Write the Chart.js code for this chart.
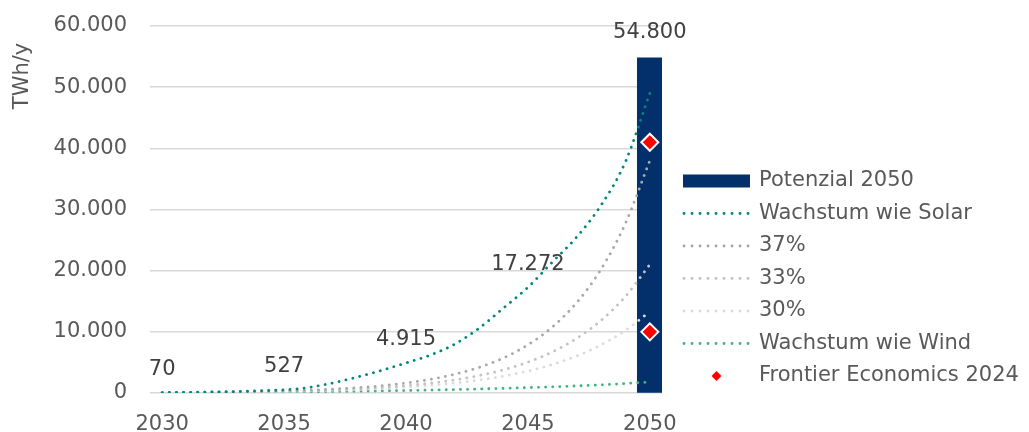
<!DOCTYPE html>
<html>
<head>
<meta charset="utf-8">
<script src="https://cdn.jsdelivr.net/npm/chart.js@4.4.1/dist/chart.umd.min.js"></script>
<style>
  html, body { margin: 0; padding: 0; background: #fff; }
</style>
</head>
<body>
<canvas id="myChart" width="1029" height="432"></canvas>
<script>
// Jahre auf der x-Achse
const years = [2030, 2031, 2032, 2033, 2034, 2035, 2036, 2037, 2038, 2039, 2040,
               2041, 2042, 2043, 2044, 2045, 2046, 2047, 2048, 2049, 2050];

// Szenarien (TWh/y)
const solar    = [70, 105, 158, 236, 354, 527, 900, 1650, 2600, 3700, 4915,
                  6200, 8000, 10600, 13900, 17272, 21400, 25500, 30700, 37800, 49000];
const growth37 = [70, 96, 131, 180, 247, 338, 463, 634, 869, 1190, 1631,
                  2234, 3061, 4193, 5744, 7870, 10782, 14771, 20236, 27724, 37982];
const growth33 = [70, 93, 124, 165, 219, 291, 387, 515, 685, 912, 1212,
                  1612, 2144, 2852, 3793, 5045, 6710, 8924, 11869, 15786, 21000];
const growth30 = [70, 91, 118, 154, 200, 260, 338, 439, 571, 742, 965,
                  1255, 1631, 2120, 2756, 3583, 4658, 6055, 7872, 10234, 13304];
const wind     = [70, 85, 102, 122, 145, 172, 205, 243, 290, 345, 410,
                  480, 560, 650, 760, 880, 1010, 1160, 1330, 1550, 1800];

const potenzial2050 = 54800;
const frontier2024 = [41000, 10000];

// Jahre, deren Solarwert beschriftet wird
const labelledYears = [2030, 2035, 2040, 2045];

const FONT = "'DejaVu Sans'";
const textGrey = '#595959';

function fmt(v) {
  return String(Math.round(v)).replace(/\B(?=(\d{3})+(?!\d))/g, '.');
}

function dotted(label, data, color, order) {
  return {
    type: 'line',
    label: label,
    data: data,
    borderColor: color,
    backgroundColor: color,
    borderWidth: 2.8,
    borderDash: [0.1, 7],
    borderCapStyle: 'round',
    pointRadius: 0,
    cubicInterpolationMode: 'monotone',
    fill: false,
    order: order
  };
}

const datasets = [
  {
    type: 'bar',
    label: 'Potenzial 2050',
    data: years.map(y => (y === 2050 ? potenzial2050 : null)),
    backgroundColor: '#03306b',
    barThickness: 25,
    order: 10
  },
  dotted('Wachstum wie Solar', solar, '#00897a', 1),
  dotted('37%', growth37, '#a9a9a9', 2),
  dotted('33%', growth33, '#c3c3c3', 3),
  dotted('30%', growth30, '#dcdcdc', 4),
  dotted('Wachstum wie Wind', wind, '#3db57f', 5),
  {
    type: 'line',
    label: 'Frontier Economics 2024',
    data: frontier2024.map(v => ({ x: '2050', y: v })),
    showLine: false,
    pointStyle: 'rectRot',
    pointRadius: 8.5,
    pointBorderWidth: 2,
    pointBorderColor: '#ffffff',
    backgroundColor: '#ff0000',
    order: 0
  }
];

// Werte, Achsentitel und Legende selbst zeichnen
const extras = {
  id: 'extras',
  afterDatasetsDraw(chart) {
    const ctx = chart.ctx;
    ctx.save();
    ctx.font = '21px ' + FONT;
    ctx.fillStyle = '#404040';
    ctx.textAlign = 'center';
    ctx.textBaseline = 'middle';
    const solarMeta = chart.getDatasetMeta(1);
    labelledYears.forEach(yr => {
      const i = years.indexOf(yr);
      const pt = solarMeta.data[i];
      ctx.fillText(fmt(solar[i]), pt.x, pt.y - 23);
    });
    const bar = chart.getDatasetMeta(0).data[years.indexOf(2050)];
    ctx.fillText(fmt(potenzial2050), bar.x, bar.y - 25);
    ctx.restore();
  },
  afterDraw(chart) {
    const ctx = chart.ctx;
    ctx.save();
    ctx.font = '21px ' + FONT;
    ctx.fillStyle = textGrey;
    ctx.textBaseline = 'middle';

    // y-Achsentitel
    ctx.save();
    ctx.translate(23, 76);
    ctx.rotate(-Math.PI / 2);
    ctx.textAlign = 'center';
    ctx.fillText('TWh/y', 0, 0);
    ctx.restore();

    // Legende
    const lx = 683, lw = 67, tx = 759, top = 181, step = 32.5;
    chart.data.datasets.forEach((ds, k) => {
      const cy = top + k * step;
      ctx.save();
      if (ds.type === 'bar') {
        ctx.fillStyle = ds.backgroundColor;
        ctx.fillRect(lx, cy - 6.5, lw, 13);
      } else if (ds.showLine === false) {
        const cx = lx + lw / 2, r = 5;
        ctx.fillStyle = ds.backgroundColor;
        ctx.beginPath();
        ctx.moveTo(cx, cy - r);
        ctx.lineTo(cx + r, cy);
        ctx.lineTo(cx, cy + r);
        ctx.lineTo(cx - r, cy);
        ctx.closePath();
        ctx.fill();
      } else {
        ctx.strokeStyle = ds.borderColor;
        ctx.lineWidth = ds.borderWidth;
        ctx.lineCap = 'round';
        ctx.setLineDash([0.1, 7.9]);
        ctx.beginPath();
        ctx.moveTo(lx + 1, cy);
        ctx.lineTo(lx + 66, cy);
        ctx.stroke();
      }
      ctx.restore();
      ctx.textAlign = 'left';
      ctx.fillText(ds.label, tx, cy);
    });
    ctx.restore();
  }
};

const myChart = new Chart(document.getElementById('myChart'), {
  data: {
    labels: years.map(String),
    datasets: datasets
  },
  options: {
    responsive: false,
    devicePixelRatio: 1,
    animation: false,
    events: [],
    layout: { padding: { top: 26, right: 367, left: 0, bottom: 0 } },
    plugins: {
      legend: { display: false },
      tooltip: { enabled: false }
    },
    scales: {
      x: {
        grid: { display: false },
        border: { display: false },
        ticks: {
          autoSkip: false,
          maxRotation: 0,
          padding: 11,
          color: textGrey,
          font: { family: FONT, size: 21 },
          callback: function (value, index) {
            const y = years[index];
            return y % 5 === 0 ? String(y) : '';
          }
        },
        afterFit: function (scale) { scale.height = 39; }
      },
      y: {
        min: 0,
        max: 60000,
        grid: { color: '#d9d9d9', lineWidth: 1.4, drawTicks: false },
        border: { display: false },
        ticks: {
          stepSize: 10000,
          padding: 23,
          color: textGrey,
          font: { family: FONT, size: 21 },
          callback: v => fmt(v)
        },
        afterFit: function (scale) {
          scale.width = 150;
          // Tick-Abstand soll oben/unten keinen Rand erzeugen
          scale.paddingTop = 0;
          scale.paddingBottom = 0;
        }
      }
    }
  },
  plugins: [extras]
});
</script>
</body>
</html>
